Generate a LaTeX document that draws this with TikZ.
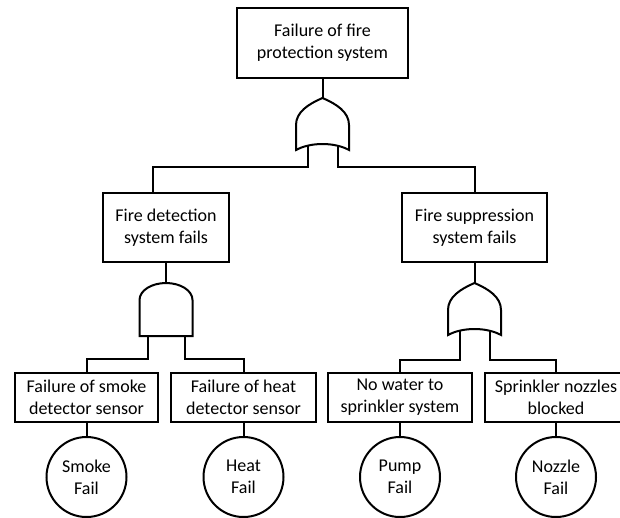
\documentclass[tikz,border=0pt]{standalone}
\usepackage{fontspec}
\setmainfont{Carlito}

\tikzset{
  txt/.style={font=\fontsize{18}{22}\selectfont, align=center},
  box/.style={txt, draw, inner sep=0pt, minimum height=49pt},
  event/.style={txt, draw, circle, inner sep=0pt, minimum size=80pt},
  orgate/.pic={
    \draw (0,0) .. controls (-14,6) and (-26.5,14) .. (-26.5,27) -- (-26.5,52)
      .. controls (-12,44) and (12,44) .. (26.5,52) -- (26.5,27)
      .. controls (26.5,14) and (14,6) .. (0,0) -- cycle;
    \coordinate (-out) at (0,0);
    \coordinate (-a) at (-15,47.5);
    \coordinate (-b) at (15,47.5);
  },
  andgate/.pic={
    \draw (-26.5,53) -- (-26.5,17) .. controls (-26.5,7.6) and (-14.6,0) .. (0,0)
      .. controls (14.6,0) and (26.5,7.6) .. (26.5,17) -- (26.5,53) -- cycle;
    \coordinate (-out) at (0,0);
    \coordinate (-a) at (-18.5,53);
    \coordinate (-b) at (18.5,53);
  }
}

\begin{document}
\begin{tikzpicture}[x=1pt, y=-1pt, line width=2pt]
        \useasboundingbox (0,0) rectangle (620,517);
        % events
        \node[box, minimum width=171pt, minimum height=70pt] (top) at (322.5,43) {Failure of fire\\protection system};
        \node[box, minimum width=126pt, minimum height=69pt] (det) at (166,227.5) {Fire detection\\system fails};
        \node[box, minimum width=145pt, minimum height=69pt] (sup) at (474.5,227.5) {Fire suppression\\system fails};
        \node[box, minimum width=143pt] (e1) at (86.5,397.5) {Failure of smoke\\detector sensor};
        \node[box, minimum width=145pt] (e2) at (243.5,397.5) {Failure of heat\\detector sensor};
        \node[box, minimum width=144pt] (e3) at (400,397.5) {No water to\\sprinkler system};
        \node[box, minimum width=142pt] (e4) at (556,397.5) {Sprinkler nozzles\\blocked};
        % basic events
        \node[event] (c1) at (86.5,477) {Smoke\\Fail};
        \node[event] (c2) at (243.5,477) {Heat\\Fail};
        \node[event] (c3) at (400,477) {Pump\\Fail};
        \node[event] (c4) at (556,477) {Nozzle\\Fail};
        % gates
        \pic (g1) at (322.5,98) {orgate};
        \pic (g2) at (166,283) {andgate};
        \pic (g3) at (474.5,283) {orgate};
        \draw (top.south) -- (g1-out);
        \draw (det.south) -- (g2-out);
        \draw (sup.south) -- (g3-out);
        \draw (g1-a) -- ++(0,21.5) -| ([xshift=-13pt]det.north);
        \draw (g1-b) -- ++(0,21.5) -| (sup.north);
        \draw (g2-a) -- ++(0,23) -| (e1.north);
        \draw (g2-b) -- ++(0,23) -| (e2.north);
        \draw (g3-a) -- ++(0,29) -| (e3.north);
        \draw (g3-b) -- ++(0,29) -| (e4.north);
        \foreach \i in {1,...,4} {\draw (e\i.south) -- (c\i.north);}
    \end{tikzpicture}
\end{document}
